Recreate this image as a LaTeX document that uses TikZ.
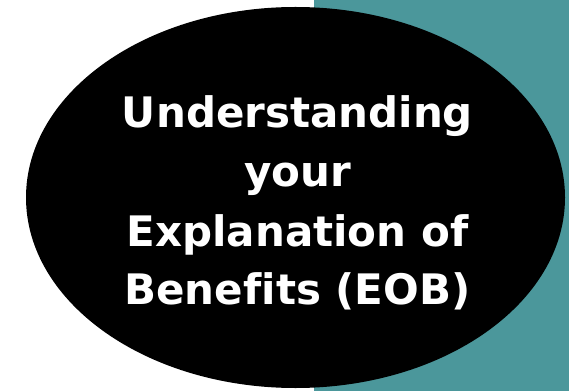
\documentclass[tikz,border=0pt]{standalone}
\usepackage{fontspec}
\setmainfont{DejaVu Sans}[Ligatures=NoCommon]
\usetikzlibrary{shapes.geometric}
\begin{document}
\begin{tikzpicture}[x=1pt,y=1pt,
  linetext/.style={text=white,anchor=base,inner sep=0pt,font=\bfseries\fontsize{42}{50}\selectfont}]
\useasboundingbox (0,0) rectangle (569,391);
\definecolor{tealbg}{HTML}{4B979B}
\fill[tealbg] (314,0) rectangle (569,391);
\node[ellipse,fill=black,minimum width=539pt,minimum height=381pt,inner sep=0pt] (ell) at (295.5,193.5) {};
\node[linetext] (l1) at (297.5,263) {Understanding};
\node[linetext] (l2) at (297.5,204.5) {your};
\node[linetext] (l3) at (297.5,144.5) {Explanation of};
\node[linetext] (l4) at (297.5,87) {Benefits (EOB)};
\end{tikzpicture}
\end{document}
